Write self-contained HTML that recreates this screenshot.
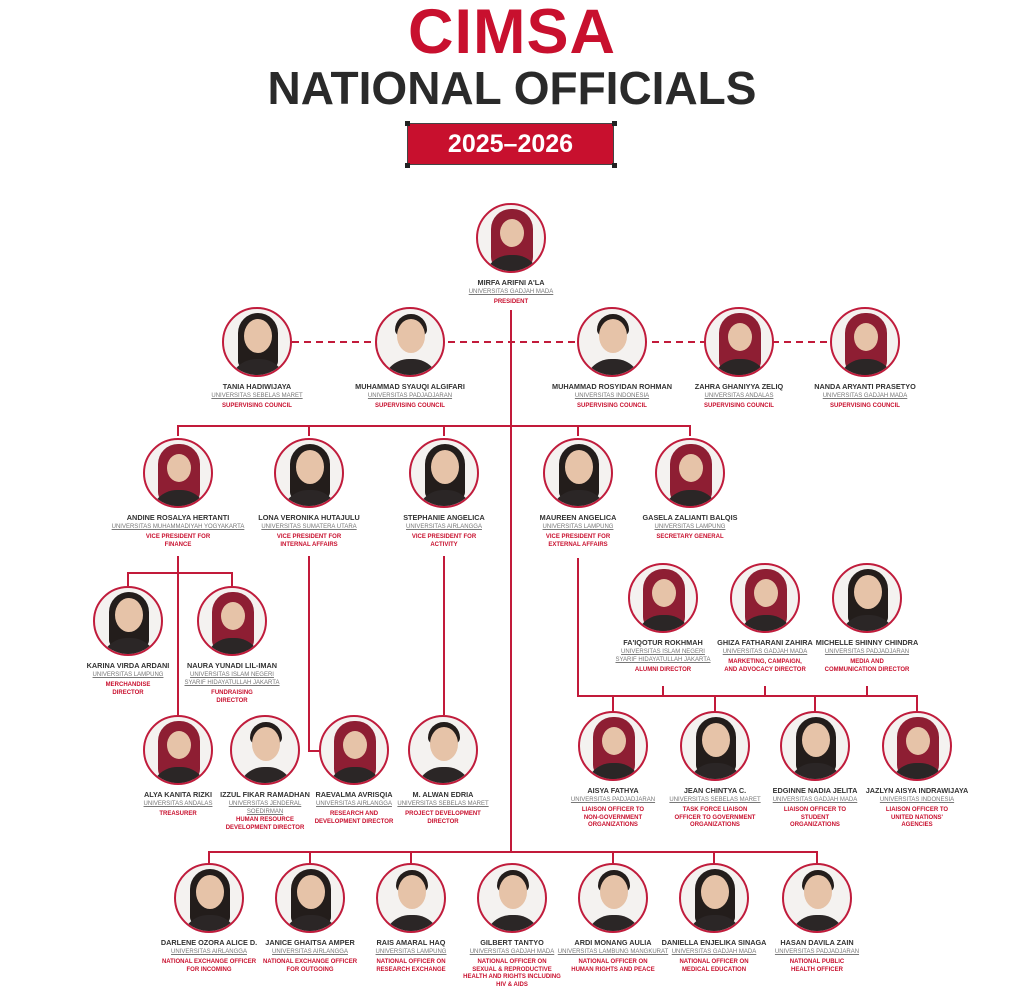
<!DOCTYPE html>
<html><head><meta charset="utf-8"><style>
*{margin:0;padding:0;box-sizing:border-box}
body{width:1024px;height:997px;background:#fff;position:relative;overflow:hidden;font-family:"Liberation Sans",Arial,sans-serif}
.t1{position:absolute;left:0;width:1024px;top:-4px;text-align:center;color:#c8102e;font-weight:bold;font-size:63px;letter-spacing:1px}
.t2{position:absolute;left:0;width:1024px;top:61px;text-align:center;color:#2a2a2a;font-weight:bold;font-size:46px;letter-spacing:0px}
.yr{position:absolute;left:407px;top:123px;width:207px;height:42px;background:#c8102e;border:1px solid #444;color:#fff;font-weight:bold;font-size:25px;text-align:center;line-height:40px}
.sq{position:absolute;width:5px;height:5px;background:#222}
svg.l{position:absolute;left:0;top:0}
.n{position:absolute;width:170px;margin-left:-85px;text-align:center}
.c{width:70px;height:70px;margin:0 auto;border:2.5px solid #c01c3c;border-radius:50%;background:#f4f2f0;position:relative;overflow:hidden}
.c .h{position:absolute;left:20px;top:10px;width:28px;height:34px;border-radius:50%;background:#e6c3a8;z-index:2}
.c .hr{position:absolute;left:14px;top:4px;width:40px;height:56px;border-radius:20px 20px 8px 8px;background:#231d1b;z-index:1}
.c .b{position:absolute;left:6px;top:50px;width:56px;height:30px;border-radius:26px 26px 0 0;background:#2b2626;z-index:3}
.c.hj .hr{background:#8e1e33;height:62px;border-radius:20px 20px 14px 14px;z-index:3;left:13px;top:4px;width:42px}
.c.hj .h{z-index:4;top:14px;width:24px;left:22px;height:28px}
.c.m .hr{height:22px;top:5px;left:18px;width:32px}
.nm{font-size:7.3px;font-weight:bold;color:#333;margin-top:5px;line-height:9px;white-space:nowrap}
.u{font-size:6px;color:#777;text-decoration:underline;line-height:8px;margin-top:1px}
.r{font-size:6px;font-weight:bold;color:#c8102e;line-height:7.5px;margin-top:3px}
</style></head><body>
<div class="t1">CIMSA</div>
<div class="t2">NATIONAL OFFICIALS</div>
<div class="yr">2025–2026</div>
<div class="sq" style="left:405px;top:121px"></div><div class="sq" style="left:612px;top:121px"></div>
<div class="sq" style="left:405px;top:163px"></div><div class="sq" style="left:612px;top:163px"></div>

<svg class="l" width="1024" height="997" fill="none" stroke="#c21a3a" stroke-width="2">
<line x1="292" y1="342" x2="830" y2="342" stroke-dasharray="7,5"/>
<line x1="511" y1="310" x2="511" y2="852"/>
<polyline points="178,436 178,426 690,426 690,436"/>
<line x1="309" y1="426" x2="309" y2="436"/><line x1="444" y1="426" x2="444" y2="436"/><line x1="578" y1="426" x2="578" y2="436"/>
<line x1="178" y1="556" x2="178" y2="715"/>
<polyline points="128,586 128,573 232,573 232,586"/>
<polyline points="309,556 309,751 320,751"/>
<line x1="444" y1="556" x2="444" y2="715"/>
<polyline points="578,558 578,696 917,696 917,711"/>
<line x1="613" y1="696" x2="613" y2="711"/><line x1="715" y1="696" x2="715" y2="711"/><line x1="815" y1="696" x2="815" y2="711"/>
<line x1="663" y1="686" x2="663" y2="696"/><line x1="765" y1="686" x2="765" y2="696"/><line x1="867" y1="686" x2="867" y2="696"/>
<polyline points="209,863 209,852 817,852 817,863"/>
<line x1="310" y1="852" x2="310" y2="863"/><line x1="411" y1="852" x2="411" y2="863"/><line x1="613" y1="852" x2="613" y2="863"/><line x1="714" y1="852" x2="714" y2="863"/>
</svg>

<div class="n" style="left:511px;top:203px"><div class="c hj"><i class="hr"></i><i class="h"></i><i class="b"></i></div><p class="nm">MIRFA ARIFNI A'LA</p><p class="u">UNIVERSITAS GADJAH MADA</p><p class="r">PRESIDENT</p></div>

<div class="n" style="left:257px;top:307px"><div class="c"><i class="hr"></i><i class="h"></i><i class="b"></i></div><p class="nm">TANIA HADIWIJAYA</p><p class="u">UNIVERSITAS SEBELAS MARET</p><p class="r">SUPERVISING COUNCIL</p></div>
<div class="n" style="left:410px;top:307px"><div class="c m"><i class="hr"></i><i class="h"></i><i class="b"></i></div><p class="nm">MUHAMMAD SYAUQI ALGIFARI</p><p class="u">UNIVERSITAS PADJADJARAN</p><p class="r">SUPERVISING COUNCIL</p></div>
<div class="n" style="left:612px;top:307px"><div class="c m"><i class="hr"></i><i class="h"></i><i class="b"></i></div><p class="nm">MUHAMMAD ROSYIDAN ROHMAN</p><p class="u">UNIVERSITAS INDONESIA</p><p class="r">SUPERVISING COUNCIL</p></div>
<div class="n" style="left:739px;top:307px"><div class="c hj"><i class="hr"></i><i class="h"></i><i class="b"></i></div><p class="nm">ZAHRA GHANIYYA ZELIQ</p><p class="u">UNIVERSITAS ANDALAS</p><p class="r">SUPERVISING COUNCIL</p></div>
<div class="n" style="left:865px;top:307px"><div class="c hj"><i class="hr"></i><i class="h"></i><i class="b"></i></div><p class="nm">NANDA ARYANTI PRASETYO</p><p class="u">UNIVERSITAS GADJAH MADA</p><p class="r">SUPERVISING COUNCIL</p></div>

<div class="n" style="left:178px;top:438px"><div class="c hj"><i class="hr"></i><i class="h"></i><i class="b"></i></div><p class="nm">ANDINE ROSALYA HERTANTI</p><p class="u">UNIVERSITAS MUHAMMADIYAH YOGYAKARTA</p><p class="r">VICE PRESIDENT FOR<br>FINANCE</p></div>
<div class="n" style="left:309px;top:438px"><div class="c"><i class="hr"></i><i class="h"></i><i class="b"></i></div><p class="nm">LONA VERONIKA HUTAJULU</p><p class="u">UNIVERSITAS SUMATERA UTARA</p><p class="r">VICE PRESIDENT FOR<br>INTERNAL AFFAIRS</p></div>
<div class="n" style="left:444px;top:438px"><div class="c"><i class="hr"></i><i class="h"></i><i class="b"></i></div><p class="nm">STEPHANIE ANGELICA</p><p class="u">UNIVERSITAS AIRLANGGA</p><p class="r">VICE PRESIDENT FOR<br>ACTIVITY</p></div>
<div class="n" style="left:578px;top:438px"><div class="c"><i class="hr"></i><i class="h"></i><i class="b"></i></div><p class="nm">MAUREEN ANGELICA</p><p class="u">UNIVERSITAS LAMPUNG</p><p class="r">VICE PRESIDENT FOR<br>EXTERNAL AFFAIRS</p></div>
<div class="n" style="left:690px;top:438px"><div class="c hj"><i class="hr"></i><i class="h"></i><i class="b"></i></div><p class="nm">GASELA ZALIANTI BALQIS</p><p class="u">UNIVERSITAS LAMPUNG</p><p class="r">SECRETARY GENERAL</p></div>

<div class="n" style="left:128px;top:586px"><div class="c"><i class="hr"></i><i class="h"></i><i class="b"></i></div><p class="nm">KARINA VIRDA ARDANI</p><p class="u">UNIVERSITAS LAMPUNG</p><p class="r">MERCHANDISE<br>DIRECTOR</p></div>
<div class="n" style="left:232px;top:586px"><div class="c hj"><i class="hr"></i><i class="h"></i><i class="b"></i></div><p class="nm">NAURA YUNADI LIL-IMAN</p><p class="u">UNIVERSITAS ISLAM NEGERI<br>SYARIF HIDAYATULLAH JAKARTA</p><p class="r">FUNDRAISING<br>DIRECTOR</p></div>

<div class="n" style="left:663px;top:563px"><div class="c hj"><i class="hr"></i><i class="h"></i><i class="b"></i></div><p class="nm">FA'IQOTUR ROKHMAH</p><p class="u">UNIVERSITAS ISLAM NEGERI<br>SYARIF HIDAYATULLAH JAKARTA</p><p class="r">ALUMNI DIRECTOR</p></div>
<div class="n" style="left:765px;top:563px"><div class="c hj"><i class="hr"></i><i class="h"></i><i class="b"></i></div><p class="nm">GHIZA FATHARANI ZAHIRA</p><p class="u">UNIVERSITAS GADJAH MADA</p><p class="r">MARKETING, CAMPAIGN,<br>AND ADVOCACY DIRECTOR</p></div>
<div class="n" style="left:867px;top:563px"><div class="c"><i class="hr"></i><i class="h"></i><i class="b"></i></div><p class="nm">MICHELLE SHINNY CHINDRA</p><p class="u">UNIVERSITAS PADJADJARAN</p><p class="r">MEDIA AND<br>COMMUNICATION DIRECTOR</p></div>

<div class="n" style="left:178px;top:715px"><div class="c hj"><i class="hr"></i><i class="h"></i><i class="b"></i></div><p class="nm">ALYA KANITA RIZKI</p><p class="u">UNIVERSITAS ANDALAS</p><p class="r">TREASURER</p></div>
<div class="n" style="left:265px;top:715px"><div class="c m"><i class="hr"></i><i class="h"></i><i class="b"></i></div><p class="nm">IZZUL FIKAR RAMADHAN</p><p class="u">UNIVERSITAS JENDERAL<br>SOEDIRMAN</p><p class="r" style="margin-top:1px">HUMAN RESOURCE<br>DEVELOPMENT DIRECTOR</p></div>
<div class="n" style="left:354px;top:715px"><div class="c hj"><i class="hr"></i><i class="h"></i><i class="b"></i></div><p class="nm">RAEVALMA AVRISQIA</p><p class="u">UNIVERSITAS AIRLANGGA</p><p class="r">RESEARCH AND<br>DEVELOPMENT DIRECTOR</p></div>
<div class="n" style="left:443px;top:715px"><div class="c m"><i class="hr"></i><i class="h"></i><i class="b"></i></div><p class="nm">M. ALWAN EDRIA</p><p class="u">UNIVERSITAS SEBELAS MARET</p><p class="r">PROJECT DEVELOPMENT<br>DIRECTOR</p></div>

<div class="n" style="left:613px;top:711px"><div class="c hj"><i class="hr"></i><i class="h"></i><i class="b"></i></div><p class="nm">AISYA FATHYA</p><p class="u">UNIVERSITAS PADJADJARAN</p><p class="r">LIAISON OFFICER TO<br>NON-GOVERNMENT<br>ORGANIZATIONS</p></div>
<div class="n" style="left:715px;top:711px"><div class="c"><i class="hr"></i><i class="h"></i><i class="b"></i></div><p class="nm">JEAN CHINTYA C.</p><p class="u">UNIVERSITAS SEBELAS MARET</p><p class="r">TASK FORCE LIAISON<br>OFFICER TO GOVERNMENT<br>ORGANIZATIONS</p></div>
<div class="n" style="left:815px;top:711px"><div class="c"><i class="hr"></i><i class="h"></i><i class="b"></i></div><p class="nm">EDGINNE NADIA JELITA</p><p class="u">UNIVERSITAS GADJAH MADA</p><p class="r">LIAISON OFFICER TO<br>STUDENT<br>ORGANIZATIONS</p></div>
<div class="n" style="left:917px;top:711px"><div class="c hj"><i class="hr"></i><i class="h"></i><i class="b"></i></div><p class="nm">JAZLYN AISYA INDRAWIJAYA</p><p class="u">UNIVERSITAS INDONESIA</p><p class="r">LIAISON OFFICER TO<br>UNITED NATIONS'<br>AGENCIES</p></div>

<div class="n" style="left:209px;top:863px"><div class="c"><i class="hr"></i><i class="h"></i><i class="b"></i></div><p class="nm">DARLENE OZORA ALICE D.</p><p class="u">UNIVERSITAS AIRLANGGA</p><p class="r">NATIONAL EXCHANGE OFFICER<br>FOR INCOMING</p></div>
<div class="n" style="left:310px;top:863px"><div class="c"><i class="hr"></i><i class="h"></i><i class="b"></i></div><p class="nm">JANICE GHAITSA AMPER</p><p class="u">UNIVERSITAS AIRLANGGA</p><p class="r">NATIONAL EXCHANGE OFFICER<br>FOR OUTGOING</p></div>
<div class="n" style="left:411px;top:863px"><div class="c m"><i class="hr"></i><i class="h"></i><i class="b"></i></div><p class="nm">RAIS AMARAL HAQ</p><p class="u">UNIVERSITAS LAMPUNG</p><p class="r">NATIONAL OFFICER ON<br>RESEARCH EXCHANGE</p></div>
<div class="n" style="left:512px;top:863px"><div class="c m"><i class="hr"></i><i class="h"></i><i class="b"></i></div><p class="nm">GILBERT TANTYO</p><p class="u">UNIVERSITAS GADJAH MADA</p><p class="r">NATIONAL OFFICER ON<br>SEXUAL &amp; REPRODUCTIVE<br>HEALTH AND RIGHTS INCLUDING<br>HIV &amp; AIDS</p></div>
<div class="n" style="left:613px;top:863px"><div class="c m"><i class="hr"></i><i class="h"></i><i class="b"></i></div><p class="nm">ARDI MONANG AULIA</p><p class="u">UNIVERSITAS LAMBUNG MANGKURAT</p><p class="r">NATIONAL OFFICER ON<br>HUMAN RIGHTS AND PEACE</p></div>
<div class="n" style="left:714px;top:863px"><div class="c"><i class="hr"></i><i class="h"></i><i class="b"></i></div><p class="nm">DANIELLA ENJELIKA SINAGA</p><p class="u">UNIVERSITAS GADJAH MADA</p><p class="r">NATIONAL OFFICER ON<br>MEDICAL EDUCATION</p></div>
<div class="n" style="left:817px;top:863px"><div class="c m"><i class="hr"></i><i class="h"></i><i class="b"></i></div><p class="nm">HASAN DAVILA ZAIN</p><p class="u">UNIVERSITAS PADJADJARAN</p><p class="r">NATIONAL PUBLIC<br>HEALTH OFFICER</p></div>
</body></html>
